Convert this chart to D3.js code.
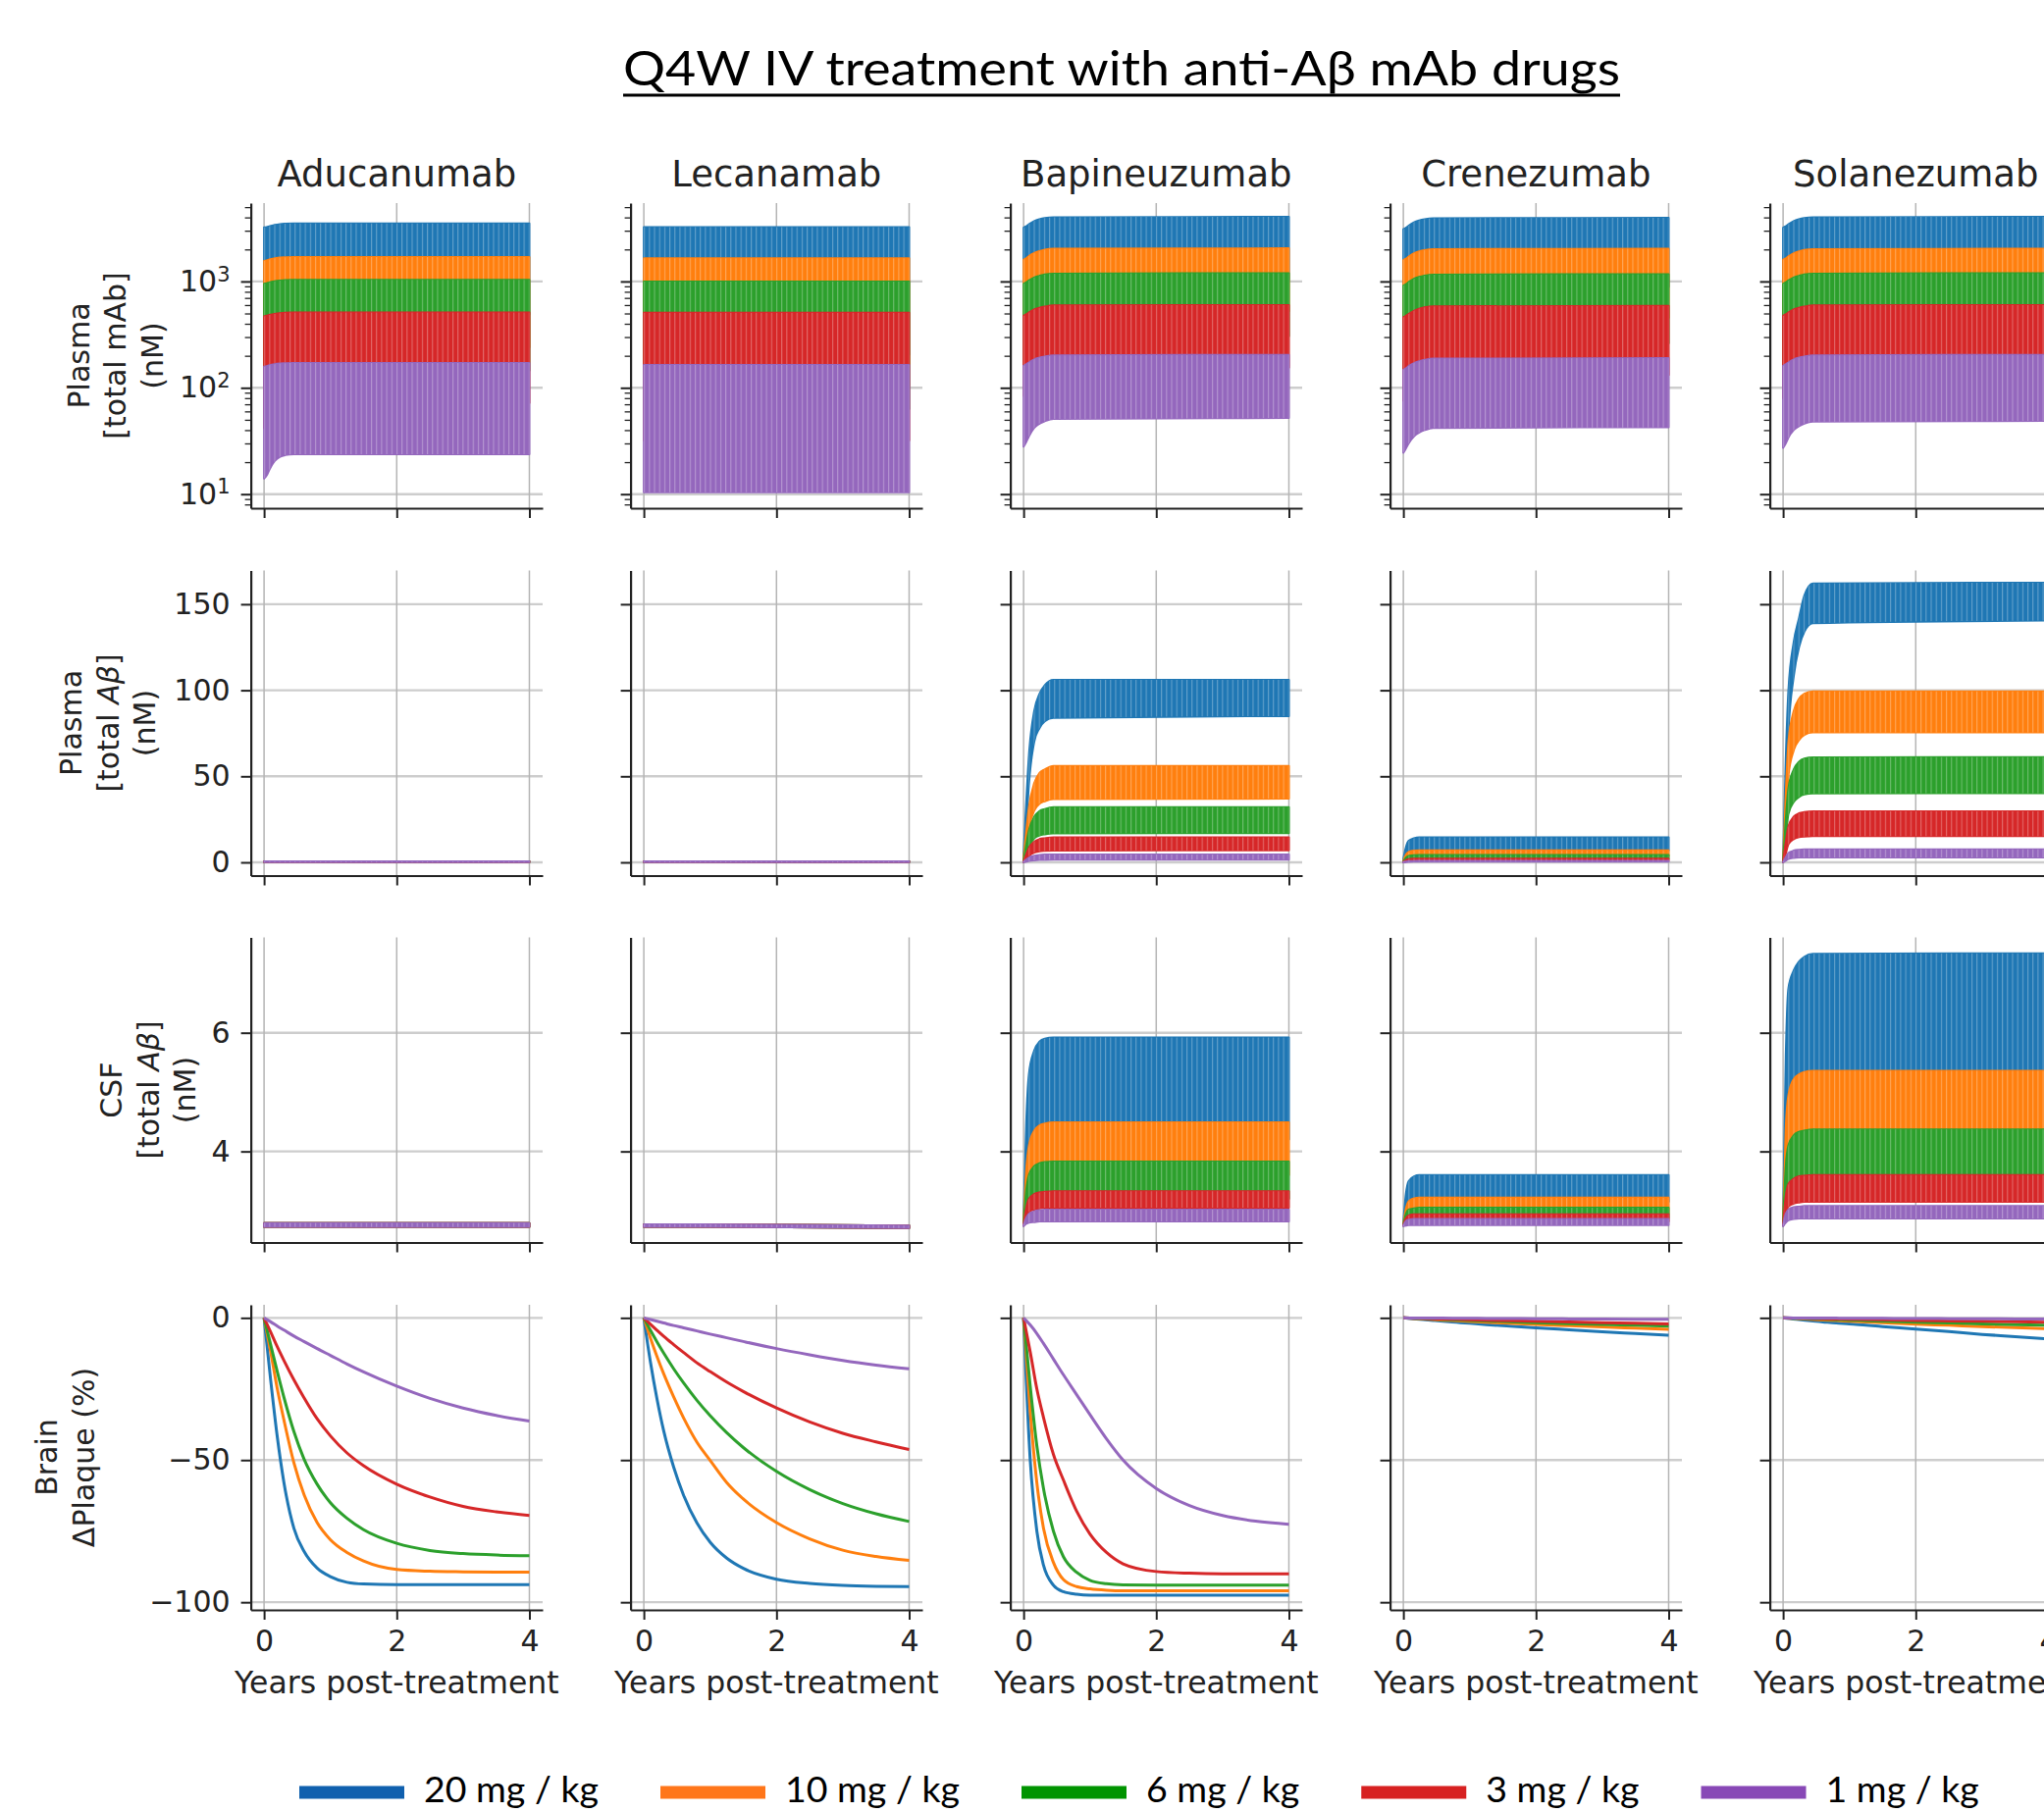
<!DOCTYPE html>
<html>
<head>
<meta charset="utf-8">
<script src="https://cdn.jsdelivr.net/npm/d3@7"></script>
<style>
  body { margin: 0; background: #fff; }
  svg { display: block; }
</style>
</head>
<body>
<svg id="chart" width="2083" height="1847"></svg>
<script>
// ---- data ----
const drugs = ["Aducanumab", "Lecanamab", "Bapineuzumab", "Crenezumab", "Solanezumab"];
const doseLabels = ["20 mg / kg", "10 mg / kg", "6 mg / kg", "3 mg / kg", "1 mg / kg"];
const lineColors = ["#1f77b4", "#ff7f0e", "#2ca02c", "#d62728", "#9467bd"];
const legendColors = ["#1060ae", "#ff761a", "#009400", "#d72121", "#8848b6"];

// years at which the peak / trough envelopes of the Q4W dosing curves were read
const envTimes = [0, 0.04, 0.08, 0.16, 0.24, 0.32, 0.45, 4];

// Plasma total mAb (nM), [drug][dose][time]
const mabPeak = [
  [[3220, 3250, 3300, 3400, 3460, 3490, 3515, 3515], [1560, 1580, 1610, 1650, 1680, 1690, 1700, 1700], [950, 960, 980, 1005, 1020, 1030, 1036, 1036], [470, 476, 485, 495, 503, 508, 512, 512], [158, 160, 163, 167, 169, 170, 171, 171]],
  [[3240, 3240, 3240, 3240, 3240, 3240, 3240, 3240], [1650, 1650, 1650, 1650, 1650, 1650, 1650, 1650], [1000, 1000, 1000, 1000, 1000, 1000, 1000, 1000], [507, 507, 507, 507, 507, 507, 507, 507], [164, 164, 164, 164, 164, 164, 164, 164]],
  [[3200, 3300, 3450, 3700, 3850, 3950, 4020, 4050], [1600, 1650, 1730, 1850, 1930, 1990, 2030, 2050], [950, 980, 1020, 1090, 1130, 1165, 1185, 1195], [475, 490, 510, 545, 565, 580, 595, 600], [161, 166, 173, 185, 192, 197, 202, 204]],
  [[3100, 3200, 3350, 3600, 3750, 3850, 3930, 3960], [1590, 1640, 1710, 1840, 1920, 1970, 2010, 2030], [915, 945, 985, 1060, 1105, 1135, 1160, 1170], [460, 475, 495, 530, 555, 570, 583, 589], [148, 153, 160, 171, 178, 183, 188, 190]],
  [[3200, 3300, 3450, 3700, 3850, 3950, 4020, 4050], [1600, 1650, 1720, 1840, 1920, 1975, 2015, 2030], [950, 980, 1020, 1090, 1130, 1165, 1185, 1195], [475, 490, 510, 545, 565, 580, 595, 600], [161, 166, 173, 185, 192, 197, 202, 204]]
];
const mabTrough = [
  [[290, 300, 330, 400, 440, 465, 490, 490], [140, 145, 160, 195, 215, 228, 240, 240], [85, 88, 97, 118, 130, 138, 145, 145], [42, 44, 48, 58, 64, 68, 72, 72], [14, 15, 17, 20.5, 22.5, 23.3, 23.7, 23.7]],
  [[205, 205, 205, 205, 205, 205, 205, 205], [105, 105, 105, 105, 105, 105, 105, 105], [63, 63, 63, 63, 63, 63, 63, 63], [32, 32, 32, 32, 32, 32, 32, 32], [10.4, 10.4, 10.4, 10.4, 10.4, 10.4, 10.4, 10.4]],
  [[560, 620, 700, 830, 910, 960, 1010, 1040], [285, 315, 355, 420, 460, 490, 515, 525], [165, 180, 205, 245, 270, 285, 298, 305], [84, 92, 104, 124, 136, 144, 151, 155], [28, 31, 35, 42, 46, 48.5, 51, 52]],
  [[510, 560, 630, 740, 800, 840, 875, 890], [260, 285, 320, 375, 410, 430, 448, 455], [150, 165, 185, 215, 235, 247, 257, 262], [76, 83, 93, 108, 117, 123, 129, 132], [24.5, 27, 30, 35, 38, 40, 42, 42.6]],
  [[540, 600, 680, 790, 860, 910, 950, 970], [270, 300, 340, 395, 430, 455, 475, 485], [160, 175, 198, 232, 255, 268, 280, 285], [80, 88, 100, 115, 125, 132, 139, 143], [27.3, 30, 34, 40, 43.5, 46, 48, 48.8]]
];

// Plasma total Abeta (nM)
const plasmaAbPeak = [
  [[0.6, 0.6, 0.6, 0.6, 0.6, 0.6, 0.6, 0.6], [0.6, 0.6, 0.6, 0.6, 0.6, 0.6, 0.6, 0.6], [0.6, 0.6, 0.6, 0.6, 0.6, 0.6, 0.6, 0.6], [0.6, 0.6, 0.6, 0.6, 0.6, 0.6, 0.6, 0.6], [0.6, 0.6, 0.6, 0.6, 0.6, 0.6, 0.6, 0.6]],
  [[0.6, 0.6, 0.6, 0.6, 0.6, 0.6, 0.6, 0.6], [0.6, 0.6, 0.6, 0.6, 0.6, 0.6, 0.6, 0.6], [0.6, 0.6, 0.6, 0.6, 0.6, 0.6, 0.6, 0.6], [0.6, 0.6, 0.6, 0.6, 0.6, 0.6, 0.6, 0.6], [0.6, 0.6, 0.6, 0.6, 0.6, 0.6, 0.6, 0.6]],
  [[5, 35, 62, 88, 98, 103, 106, 106], [3, 18, 32, 46, 52, 54, 56, 56], [1.6, 10.5, 18.5, 26.5, 29.8, 31, 32, 32], [0.8, 4.8, 8.4, 12, 13.5, 14, 14.5, 14.5], [0.3, 1.5, 2.7, 3.8, 4.3, 4.5, 4.6, 4.6]],
  [[2, 9, 12.5, 14, 14.5, 14.5, 14.5, 14.5], [1, 4.5, 6, 6.8, 7, 7, 7, 7], [0.6, 2.7, 3.7, 4.2, 4.3, 4.3, 4.3, 4.3], [0.3, 1.4, 1.9, 2.1, 2.2, 2.2, 2.2, 2.2], [0.1, 0.5, 0.7, 0.78, 0.8, 0.8, 0.8, 0.8]],
  [[1, 60, 100, 128, 142, 155, 162, 162.5], [1, 40, 70, 88, 95, 98, 99.4, 99.4], [0.5, 25, 43, 54, 58.5, 60.3, 61, 61.2], [0.3, 12, 21, 26.5, 28.5, 29.2, 29.6, 29.6], [0.1, 3, 5.4, 6.8, 7.3, 7.5, 7.6, 7.6]]
];
const plasmaAbTrough = [
  [[0.1, 0.1, 0.1, 0.1, 0.1, 0.1, 0.1, 0.1], [0.1, 0.1, 0.1, 0.1, 0.1, 0.1, 0.1, 0.1], [0.1, 0.1, 0.1, 0.1, 0.1, 0.1, 0.1, 0.1], [0.1, 0.1, 0.1, 0.1, 0.1, 0.1, 0.1, 0.1], [0.1, 0.1, 0.1, 0.1, 0.1, 0.1, 0.1, 0.1]],
  [[0.1, 0.1, 0.1, 0.1, 0.1, 0.1, 0.1, 0.1], [0.1, 0.1, 0.1, 0.1, 0.1, 0.1, 0.1, 0.1], [0.1, 0.1, 0.1, 0.1, 0.1, 0.1, 0.1, 0.1], [0.1, 0.1, 0.1, 0.1, 0.1, 0.1, 0.1, 0.1], [0.1, 0.1, 0.1, 0.1, 0.1, 0.1, 0.1, 0.1]],
  [[0, 20, 45, 70, 78, 82, 84, 85], [0, 9, 20, 30, 34, 35.5, 36.7, 37], [0, 4, 9, 14, 15.6, 16.3, 16.8, 17], [0, 1.7, 3.7, 5.7, 6.4, 6.7, 6.9, 7], [0, 0.4, 0.8, 1.2, 1.4, 1.45, 1.5, 1.5]],
  [[0, 4, 6, 6.8, 7, 7, 7, 7], [0, 2, 3, 3.4, 3.5, 3.5, 3.5, 3.5], [0, 1.2, 1.8, 2, 2.1, 2.1, 2.1, 2.1], [0, 0.6, 0.9, 1.05, 1.1, 1.1, 1.1, 1.1], [0, 0.2, 0.3, 0.38, 0.4, 0.4, 0.4, 0.4]],
  [[0, 35, 75, 108, 125, 134, 139, 140.5], [0, 25, 50, 65, 71, 74, 75.5, 75.5], [0, 14, 28, 35, 38, 39.5, 40, 40.2], [0, 5, 10.5, 13.5, 14.6, 15, 15.2, 15.3], [0, 1, 2, 2.6, 2.8, 2.85, 2.9, 2.9]]
];

// CSF total Abeta (nM)
const csfAbPeak = [
  [[2.79, 2.79, 2.79, 2.79, 2.79, 2.79, 2.79, 2.79], [2.79, 2.79, 2.79, 2.79, 2.79, 2.79, 2.79, 2.79], [2.79, 2.79, 2.79, 2.79, 2.79, 2.79, 2.79, 2.79], [2.79, 2.79, 2.79, 2.79, 2.79, 2.79, 2.79, 2.79], [2.79, 2.79, 2.79, 2.79, 2.79, 2.79, 2.79, 2.79]],
  [[2.77, 2.77, 2.77, 2.77, 2.77, 2.77, 2.77, 2.75], [2.77, 2.77, 2.77, 2.77, 2.77, 2.77, 2.77, 2.75], [2.77, 2.77, 2.77, 2.77, 2.77, 2.77, 2.77, 2.75], [2.77, 2.77, 2.77, 2.77, 2.77, 2.77, 2.77, 2.75], [2.77, 2.77, 2.77, 2.77, 2.77, 2.77, 2.77, 2.75]],
  [[2.9, 4.5, 5.3, 5.7, 5.85, 5.9, 5.92, 5.92], [2.85, 3.7, 4.1, 4.35, 4.44, 4.47, 4.49, 4.49], [2.8, 3.35, 3.6, 3.75, 3.8, 3.82, 3.83, 3.83], [2.78, 3.05, 3.2, 3.28, 3.31, 3.32, 3.33, 3.33], [2.76, 2.88, 2.95, 2.99, 3.01, 3.02, 3.02, 3.02]],
  [[2.8, 3.3, 3.5, 3.58, 3.6, 3.6, 3.6, 3.6], [2.78, 3.05, 3.16, 3.21, 3.22, 3.22, 3.22, 3.22], [2.77, 2.95, 3.02, 3.04, 3.05, 3.05, 3.05, 3.05], [2.76, 2.88, 2.92, 2.94, 2.94, 2.94, 2.94, 2.94], [2.75, 2.83, 2.85, 2.86, 2.86, 2.86, 2.86, 2.86]],
  [[2.9, 5.6, 6.75, 7.05, 7.2, 7.28, 7.33, 7.34], [2.85, 4.4, 4.95, 5.22, 5.3, 5.34, 5.36, 5.36], [2.8, 3.75, 4.1, 4.27, 4.33, 4.35, 4.37, 4.37], [2.78, 3.25, 3.45, 3.54, 3.58, 3.59, 3.6, 3.6], [2.76, 2.95, 3.02, 3.06, 3.07, 3.08, 3.08, 3.08]]
];
const csfAbTrough = [
  [[2.73, 2.73, 2.73, 2.73, 2.73, 2.73, 2.73, 2.73], [2.73, 2.73, 2.73, 2.73, 2.73, 2.73, 2.73, 2.73], [2.73, 2.73, 2.73, 2.73, 2.73, 2.73, 2.73, 2.73], [2.73, 2.73, 2.73, 2.73, 2.73, 2.73, 2.73, 2.73], [2.73, 2.73, 2.73, 2.73, 2.73, 2.73, 2.73, 2.73]],
  [[2.73, 2.73, 2.73, 2.73, 2.73, 2.73, 2.73, 2.71], [2.73, 2.73, 2.73, 2.73, 2.73, 2.73, 2.73, 2.71], [2.73, 2.73, 2.73, 2.73, 2.73, 2.73, 2.73, 2.71], [2.73, 2.73, 2.73, 2.73, 2.73, 2.73, 2.73, 2.71], [2.73, 2.73, 2.73, 2.73, 2.73, 2.73, 2.73, 2.71]],
  [[2.75, 3.6, 3.9, 4.1, 4.15, 4.18, 4.2, 4.2], [2.75, 3.2, 3.4, 3.52, 3.56, 3.58, 3.6, 3.6], [2.75, 3.0, 3.1, 3.16, 3.18, 3.19, 3.2, 3.2], [2.75, 2.9, 2.98, 3.02, 3.04, 3.05, 3.05, 3.05], [2.74, 2.78, 2.8, 2.81, 2.82, 2.82, 2.82, 2.82]],
  [[2.75, 3.0, 3.1, 3.14, 3.15, 3.15, 3.15, 3.15], [2.75, 2.88, 2.93, 2.95, 2.95, 2.95, 2.95, 2.95], [2.75, 2.84, 2.87, 2.88, 2.88, 2.88, 2.88, 2.88], [2.75, 2.8, 2.81, 2.82, 2.82, 2.82, 2.82, 2.82], [2.74, 2.75, 2.76, 2.76, 2.76, 2.76, 2.76, 2.76]],
  [[2.75, 3.6, 4.0, 4.25, 4.33, 4.37, 4.4, 4.4], [2.75, 3.3, 3.65, 3.8, 3.86, 3.88, 3.9, 3.9], [2.75, 3.1, 3.27, 3.35, 3.38, 3.39, 3.4, 3.4], [2.75, 2.95, 3.07, 3.12, 3.14, 3.15, 3.15, 3.15], [2.74, 2.8, 2.84, 2.86, 2.87, 2.87, 2.87, 2.87]]
];

// Brain plaque change (%), [drug][dose][time]
const plaqueTimes = [0, 0.1, 0.2, 0.3, 0.45, 0.6, 0.8, 1, 1.25, 1.5, 2, 2.5, 3, 3.5, 4];
const plaqueChange = [
  [[0, -22, -42, -58, -74, -82, -88, -91, -93, -93.6, -93.8, -93.8, -93.8, -93.8, -93.8],
   [0, -12, -25, -36, -51, -62, -72, -78, -82.5, -85.5, -88.5, -89.1, -89.3, -89.4, -89.4],
   [0, -9.5, -19, -28, -40, -49.5, -58.5, -65, -70.5, -74.5, -79.3, -81.8, -82.9, -83.4, -83.6],
   [0, -5, -10.2, -15, -21.8, -28, -35.5, -41.5, -47.5, -52, -58.5, -63, -66.3, -68.2, -69.5],
   [0, -1.4, -2.9, -4.3, -6.4, -8.3, -10.8, -13.2, -16.2, -19, -24, -28.3, -31.7, -34.3, -36.3]],
  [[0, -15.6, -28.7, -39.8, -52.5, -62.4, -72.1, -78.9, -84.5, -88.1, -91.9, -93.4, -94.1, -94.4, -94.5],
   [0, -7.1, -13.7, -19.7, -27.8, -35.2, -43.7, -50.1, -57.9, -63.7, -72, -77.7, -81.7, -83.9, -85.3],
   [0, -4.4, -8.5, -12.4, -17.9, -22.9, -29, -34.4, -40.4, -45.6, -54, -60.4, -65.3, -68.9, -71.6],
   [0, -2.25, -4.4, -6.5, -9.4, -12.2, -15.8, -18.9, -22.6, -25.9, -31.7, -36.6, -40.6, -43.6, -46.3],
   [0, -0.6, -1.2, -1.8, -2.7, -3.5, -4.6, -5.7, -7, -8.3, -10.8, -13, -15, -16.6, -17.9]],
  [[0, -50, -75, -87, -94, -96.3, -97.2, -97.5, -97.5, -97.5, -97.5, -97.5, -97.5, -97.5, -97.5],
   [0, -33, -58, -74, -86, -92, -94.5, -95.3, -95.8, -96, -96, -96, -96, -96, -96],
   [0, -24, -45, -60, -75, -84, -89.5, -92.3, -93.5, -93.9, -94, -94, -94, -94, -94],
   [0, -12, -25, -35, -48, -57, -68, -76, -82.5, -86.5, -89.2, -89.8, -90, -90, -90],
   [0, -2.5, -5.5, -9, -14.5, -20, -27, -34, -42.5, -50, -60, -66, -69.5, -71.5, -72.6]],
  [[0, -0.2, -0.4, -0.6, -0.9, -1.2, -1.55, -1.9, -2.35, -2.75, -3.5, -4.2, -4.9, -5.5, -6.1],
   [0, -0.13, -0.26, -0.4, -0.6, -0.8, -1.02, -1.25, -1.55, -1.8, -2.3, -2.75, -3.2, -3.6, -4],
   [0, -0.1, -0.19, -0.29, -0.43, -0.57, -0.74, -0.9, -1.12, -1.3, -1.66, -2, -2.33, -2.6, -2.9],
   [0, -0.07, -0.14, -0.21, -0.31, -0.41, -0.53, -0.65, -0.8, -0.94, -1.2, -1.44, -1.68, -1.9, -2.1],
   [0, -0.02, -0.04, -0.05, -0.08, -0.1, -0.13, -0.16, -0.2, -0.23, -0.3, -0.36, -0.42, -0.47, -0.5]],
  [[0, -0.25, -0.5, -0.75, -1.1, -1.4, -1.8, -2.1, -2.6, -3.05, -3.9, -4.8, -5.8, -6.6, -7.4],
   [0, -0.12, -0.25, -0.37, -0.55, -0.72, -0.95, -1.15, -1.42, -1.68, -2.2, -2.6, -3.05, -3.45, -3.8],
   [0, -0.09, -0.17, -0.26, -0.38, -0.5, -0.65, -0.8, -1, -1.18, -1.52, -1.8, -2.1, -2.35, -2.6],
   [0, -0.05, -0.1, -0.15, -0.22, -0.29, -0.38, -0.46, -0.57, -0.68, -0.88, -1.05, -1.22, -1.37, -1.5],
   [0, -0.01, -0.03, -0.04, -0.06, -0.08, -0.1, -0.12, -0.15, -0.18, -0.24, -0.28, -0.32, -0.36, -0.4]]
];

const xTicks = [0, 2, 4];
const yTicks = [[10, 100, 1000], [0, 50, 100, 150], [4, 6], [-100, -50, 0]];
const yLabels = [
  ["Plasma", "[total mAb]", "(nM)"],
  ["Plasma", "[total Aβ]", "(nM)"],
  ["CSF", "[total Aβ]", "(nM)"],
  ["Brain", "ΔPlaque (%)"]
];

// ---- layout ----
const W = 2083, H = 1847;
const colLeft = 255.6, colStep = 387, axW = 297.4;
const rowTop = [207, 581.5, 955.5, 1330], axH = 311;
const yLabelX = [[80, 117.5, 155], [72, 110, 147.5], [113, 150.5, 188], [47, 85]];
const ink = "#222";
const tickFont = "'DejaVu Sans', sans-serif";

const svg = d3.select("#chart");
svg.append("rect").attr("width", W).attr("height", H).attr("fill", "#fff");

const x = d3.scaleLinear().domain([-0.2, 4.2]).range([0, axW]);
const yScales = [
  d3.scaleLog().domain([Math.pow(10, 0.868), Math.pow(10, 3.737)]).range([axH, 0]),
  d3.scaleLinear().domain([-7.7, 169.6]).range([axH, 0]),
  d3.scaleLinear().domain([2.465, 7.607]).range([axH, 0]),
  d3.scaleLinear().domain([-102.7, 4.6]).range([axH, 0])
];

// faint stripes that hint at the individual 4-week dosing cycles
const defs = svg.append("defs");
const doseStep = x(28 / 365) - x(0);
defs.append("pattern")
  .attr("id", "doseStripes")
  .attr("patternUnits", "userSpaceOnUse")
  .attr("x", x(0)).attr("y", 0)
  .attr("width", doseStep).attr("height", 20)
  .append("rect")
  .attr("x", 0).attr("width", 1.1).attr("height", 20)
  .attr("fill", "#fff").attr("fill-opacity", 0.3);

// Main title, underlined
svg.append("text")
  .attr("x", 1143).attr("y", 87)
  .attr("text-anchor", "middle")
  .attr("textLength", 1016).attr("lengthAdjust", "spacingAndGlyphs")
  .style("font-family", "Lato, 'Open Sans', sans-serif")
  .style("font-size", "49px")
  .attr("fill", "#000")
  .text("Q4W IV treatment with anti-Aβ mAb drugs");
svg.append("line")
  .attr("x1", 1143 - 508).attr("x2", 1143 + 508)
  .attr("y1", 97).attr("y2", 97)
  .attr("stroke", "#000").attr("stroke-width", 3.2);

const bandRows = [[mabPeak, mabTrough], [plasmaAbPeak, plasmaAbTrough], [csfAbPeak, csfAbTrough]];
const minus = (s) => s.replace("-", "\u2212");

drugs.forEach((drug, c) => {
  const left = colLeft + c * colStep;

  // Column title
  svg.append("text")
    .attr("x", left + axW / 2).attr("y", 190)
    .attr("text-anchor", "middle")
    .style("font-family", tickFont).style("font-size", "37px")
    .attr("fill", ink)
    .text(drug);

  yScales.forEach((y, r) => {
    const g = svg.append("g").attr("transform", `translate(${left},${rowTop[r]})`);

    // Grid
    g.selectAll("line.hgrid").data(yTicks[r]).join("line")
      .attr("class", "hgrid")
      .attr("x1", 0).attr("x2", axW)
      .attr("y1", (d) => y(d)).attr("y2", (d) => y(d))
      .attr("stroke", "#cdcdcd").attr("stroke-width", 2.4);
    g.selectAll("line.vgrid").data(xTicks).join("line")
      .attr("class", "vgrid")
      .attr("x1", (d) => x(d)).attr("x2", (d) => x(d))
      .attr("y1", 0).attr("y2", axH)
      .attr("stroke", "#b4b4b4").attr("stroke-width", 1.5);

    if (r < 3) {
      // Oscillating concentration curves drawn as peak/trough bands
      const [peak, trough] = bandRows[r];
      const area = d3.area()
        .x((d) => x(d.t))
        .y0((d) => y(d.lo))
        .y1((d) => y(d.hi))
        .curve(d3.curveMonotoneX);
      doseLabels.forEach((dose, s) => {
        const pts = envTimes.map((t, i) => ({ t, hi: peak[c][s][i], lo: trough[c][s][i] }));
        g.append("path")
          .datum(pts)
          .attr("d", area)
          .attr("fill", lineColors[s])
          .attr("stroke", lineColors[s])
          .attr("stroke-width", 2)
          .attr("stroke-linejoin", "round");
        g.append("path")
          .datum(pts)
          .attr("d", area)
          .attr("fill", "url(#doseStripes)");
      });
    } else {
      // Plaque change lines
      const line = d3.line()
        .x((d) => x(d.t))
        .y((d) => y(d.v))
        .curve(d3.curveMonotoneX);
      doseLabels.forEach((dose, s) => {
        g.append("path")
          .datum(plaqueTimes.map((t, i) => ({ t, v: plaqueChange[c][s][i] })))
          .attr("d", line)
          .attr("fill", "none")
          .attr("stroke", lineColors[s])
          .attr("stroke-width", 3);
      });
    }

    // Y axis
    const yAxis = d3.axisLeft(y)
      .tickValues(yTicks[r])
      .tickSize(10).tickSizeOuter(0).tickPadding(11)
      .tickFormat((d) => (c === 0 ? minus(String(d)) : ""));
    const ya = g.append("g").call(yAxis);
    ya.select(".domain").attr("stroke", ink).attr("stroke-width", 2.2);
    ya.selectAll(".tick line").attr("stroke", ink).attr("stroke-width", 2);
    ya.selectAll("text")
      .style("font-family", tickFont).style("font-size", "30px")
      .attr("fill", ink);

    if (r === 0) {
      // log axis: power-of-ten labels and minor ticks
      if (c === 0) {
        ya.selectAll(".tick text").each(function (d) {
          const t = d3.select(this).text("10");
          t.append("tspan")
            .attr("dy", "-0.5em")
            .style("font-size", "21px")
            .text(Math.round(Math.log10(d)));
        });
      }
      const minors = y.ticks().filter((v) => Math.abs(Math.log10(v) - Math.round(Math.log10(v))) > 1e-6);
      const ym = g.append("g").call(
        d3.axisLeft(y).tickValues(minors).tickSize(6).tickSizeOuter(0).tickFormat("")
      );
      ym.select(".domain").remove();
      ym.selectAll(".tick line").attr("stroke", ink).attr("stroke-width", 1.3);
    }

    // X axis
    const xAxis = d3.axisBottom(x)
      .tickValues(xTicks)
      .tickSize(10).tickSizeOuter(0).tickPadding(11)
      .tickFormat((d) => (r === 3 ? String(d) : ""));
    const xa = g.append("g").attr("transform", `translate(0,${axH})`).call(xAxis);
    xa.select(".domain").attr("stroke", ink).attr("stroke-width", 2.2);
    xa.selectAll(".tick line").attr("stroke", ink).attr("stroke-width", 2);
    xa.selectAll("text")
      .style("font-family", tickFont).style("font-size", "30px")
      .attr("fill", ink);

    if (r === 3) {
      g.append("text")
        .attr("x", axW / 2).attr("y", axH + 85)
        .attr("text-anchor", "middle")
        .style("font-family", tickFont).style("font-size", "31.5px")
        .attr("fill", ink)
        .text("Years post-treatment");
    }

    // Row label (first column only)
    if (c === 0) {
      const cy = rowTop[r] + axH / 2;
      yLabels[r].forEach((lbl, i) => {
        const t = svg.append("text")
          .attr("transform", `translate(${yLabelX[r][i]},${cy}) rotate(-90)`)
          .attr("text-anchor", "middle")
          .attr("dominant-baseline", "central")
          .style("font-family", tickFont).style("font-size", "30px")
          .attr("fill", ink);
        if (lbl.includes("Aβ")) {
          t.append("tspan").text("[total ");
          t.append("tspan").style("font-style", "italic").text("Aβ");
          t.append("tspan").text("]");
        } else {
          t.text(lbl);
        }
      });
    }
  });
});

// Legend along the bottom
const legendY = 1827;
let lx = 305;
const probe = svg.append("text")
  .style("font-family", "Lato, 'Open Sans', sans-serif").style("font-size", "36px")
  .text(doseLabels[0]);
const squeeze = 178 / probe.node().getComputedTextLength();
probe.remove();
doseLabels.forEach((lbl, s) => {
  svg.append("rect")
    .attr("x", lx).attr("y", legendY - 6.5)
    .attr("width", 107).attr("height", 13)
    .attr("fill", legendColors[s]);
  const t = svg.append("text")
    .attr("x", lx + 127).attr("y", legendY + 10)
    .style("font-family", "Lato, 'Open Sans', sans-serif").style("font-size", "36px")
    .attr("fill", "#000")
    .text(lbl);
  const w = t.node().getComputedTextLength() * squeeze;
  t.attr("textLength", w).attr("lengthAdjust", "spacingAndGlyphs");
  lx += 127 + w + 63;
});
</script>
</body>
</html>
